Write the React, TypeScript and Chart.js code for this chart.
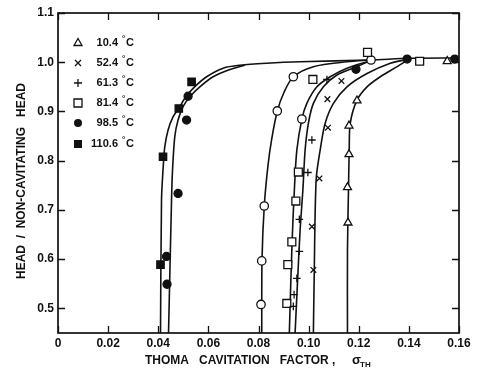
import React, { useEffect, useRef } from 'react';
import { Chart, registerables } from 'chart.js';

Chart.register(...registerables);

// ---------- axis ticks ----------
const X_TICKS = [0, 0.02, 0.04, 0.06, 0.08, 0.1, 0.12, 0.14, 0.16];
const X_TICK_LABELS = ['0', '0.02', '0.04', '0.06', '0.08', '0.10', '0.12', '0.14', '0.16'];
const Y_TICKS = [0.5, 0.6, 0.7, 0.8, 0.9, 1.0, 1.1];
const Y_TICK_LABELS = ['0.5', '0.6', '0.7', '0.8', '0.9', '1.0', '1.1'];

// ---------- legend ----------
const LEGEND_TEMPS = ['10.4', '52.4', '61.3', '81.4', '98.5', '110.6'];

// ---------- measured points ----------
const tri104Sigma = [0.1157, 0.1155, 0.1161, 0.1161, 0.1193, 0.1553];
const tri104Head = [0.674, 0.746, 0.813, 0.871, 0.922, 1.002];

const x524Sigma = [0.1019, 0.1013, 0.1043, 0.1077, 0.1075, 0.1131];
const x524Head = [0.578, 0.666, 0.764, 0.867, 0.925, 0.962];

const plus613Sigma = [0.0939, 0.0942, 0.0953, 0.0963, 0.0963, 0.0997, 0.1013, 0.1073];
const plus613Head = [0.504, 0.528, 0.561, 0.616, 0.681, 0.776, 0.842, 0.965];

const sq814Sigma = [0.0913, 0.0917, 0.0933, 0.0949, 0.0959, 0.1017, 0.1235, 0.1443];
const sq814Head = [0.51, 0.589, 0.635, 0.718, 0.777, 0.965, 1.02, 1.002];

const dot985Sigma = [0.0435, 0.0433, 0.0479, 0.0513, 0.0519, 0.1189, 0.1393, 0.1583];
const dot985Head = [0.549, 0.6055, 0.7335, 0.8825, 0.931, 0.9856, 1.0065, 1.0065];

const fsq1106Sigma = [0.0409, 0.0419, 0.0482, 0.0533];
const fsq1106Head = [0.589, 0.808, 0.906, 0.96];

const openCircSigma = [0.081, 0.0813, 0.0823, 0.0875, 0.0939, 0.0973, 0.1249];
const openCircHead = [0.508, 0.5965, 0.708, 0.901, 0.9705, 0.8846, 1.0045];

// ---------- faired curves ----------
const curve1106Sigma = [0.0409, 0.0413, 0.0419, 0.0426, 0.0439, 0.0459, 0.0482, 0.0506, 0.0539, 0.0593, 0.0659, 0.0726, 0.0833, 0.0966, 0.1246, 0.1406, 0.16];
const curve1106Head = [0.45, 0.72, 0.781, 0.828, 0.862, 0.889, 0.906, 0.927, 0.947, 0.9705, 0.988, 0.994, 0.998, 1.001, 1.0045, 1.008, 1.0085];

const curve985Sigma = [0.0441, 0.0453, 0.0457, 0.0466, 0.0479, 0.0499, 0.0526, 0.0566, 0.0619, 0.0686, 0.0745];
const curve985Head = [0.45, 0.72, 0.781, 0.849, 0.8825, 0.91, 0.93, 0.95, 0.9705, 0.985, 0.994];

const curveCircSigma = [0.0813, 0.0814, 0.0823, 0.0838, 0.0852, 0.0875, 0.0902, 0.0939, 0.1019, 0.1153, 0.1246];
const curveCircHead = [0.45, 0.598, 0.708, 0.791, 0.842, 0.901, 0.939, 0.9705, 0.991, 1.001, 1.0045];

const curve814Sigma = [0.0923, 0.0934, 0.0944, 0.0953, 0.0973, 0.0993, 0.1033, 0.1086, 0.1153, 0.1246];
const curve814Head = [0.45, 0.635, 0.75, 0.8215, 0.8846, 0.9165, 0.95, 0.9705, 0.988, 1.003];

const curve613Sigma = [0.0946, 0.0956, 0.0966, 0.0977, 0.0986, 0.0999, 0.1019, 0.1059, 0.1113, 0.1193, 0.1246];
const curve613Head = [0.45, 0.557, 0.659, 0.74, 0.8215, 0.876, 0.9165, 0.95, 0.974, 0.991, 1.003];

const curve524Sigma = [0.1019, 0.1022, 0.103, 0.1046, 0.1066, 0.1099, 0.1153, 0.1233, 0.1326, 0.1399];
const curve524Head = [0.45, 0.557, 0.761, 0.8215, 0.876, 0.9165, 0.95, 0.977, 0.998, 1.006];

const curve104Sigma = [0.1155, 0.1155, 0.1159, 0.1162, 0.1166, 0.1193, 0.1233, 0.1286, 0.1353, 0.1399];
const curve104Head = [0.45, 0.618, 0.74, 0.8215, 0.876, 0.923, 0.95, 0.9705, 0.991, 1.006];

const pts = (xs: number[], ys: number[]) => xs.map((v, i) => ({ x: v, y: ys[i] }));

const FONT = '"Liberation Sans", Arial, sans-serif';
const INK = '#111';

function drawMarker(ctx: CanvasRenderingContext2D, kind: string, x: number, y: number) {
  ctx.save();
  ctx.strokeStyle = INK;
  ctx.fillStyle = INK;
  ctx.lineWidth = 1.3;
  ctx.beginPath();
  if (kind === 'tri') {
    ctx.moveTo(x, y - 4.5);
    ctx.lineTo(x + 4, y + 2.5);
    ctx.lineTo(x - 4, y + 2.5);
    ctx.closePath();
    ctx.stroke();
  } else if (kind === 'x') {
    ctx.moveTo(x - 3, y - 3);
    ctx.lineTo(x + 3, y + 3);
    ctx.moveTo(x + 3, y - 3);
    ctx.lineTo(x - 3, y + 3);
    ctx.stroke();
  } else if (kind === 'plus') {
    ctx.moveTo(x - 4, y);
    ctx.lineTo(x + 4, y);
    ctx.moveTo(x, y - 4);
    ctx.lineTo(x, y + 4);
    ctx.stroke();
  } else if (kind === 'sq') {
    ctx.rect(x - 4, y - 4, 8, 8);
    ctx.stroke();
  } else if (kind === 'dot') {
    ctx.arc(x, y, 4, 0, Math.PI * 2);
    ctx.fill();
  } else if (kind === 'fsq') {
    ctx.rect(x - 4, y - 4, 8, 8);
    ctx.fill();
  }
  ctx.restore();
}

const LEGEND_KINDS = ['tri', 'x', 'plus', 'sq', 'dot', 'fsq'];

const decorPlugin = {
  id: 'decor',
  afterDatasetsDraw(chart: any) {
    const { ctx, chartArea: a, scales } = chart;
    const xs = scales.x;
    const ys = scales.y;
    ctx.save();
    ctx.strokeStyle = INK;
    ctx.lineWidth = 1.7;
    ctx.strokeRect(a.left, a.top, a.right - a.left, a.bottom - a.top);
    ctx.lineWidth = 1.3;
    ctx.beginPath();
    X_TICKS.forEach((v) => {
      const px = Math.round(xs.getPixelForValue(v)) + 0.5;
      ctx.moveTo(px, a.bottom);
      ctx.lineTo(px, a.bottom - 7);
      ctx.moveTo(px, a.top);
      ctx.lineTo(px, a.top + 7);
    });
    Y_TICKS.forEach((v) => {
      const py = Math.round(ys.getPixelForValue(v)) + 0.5;
      ctx.moveTo(a.left, py);
      ctx.lineTo(a.left + 7, py);
      ctx.moveTo(a.right, py);
      ctx.lineTo(a.right - 7, py);
    });
    ctx.stroke();
    ctx.restore();
  },
  afterDraw(chart: any) {
    const { ctx, chartArea: a } = chart;
    ctx.save();
    ctx.fillStyle = INK;
    // legend
    const rows = [43, 63, 83, 103, 123, 144];
    LEGEND_TEMPS.forEach((t, i) => {
      const yy = rows[i];
      drawMarker(ctx, LEGEND_KINDS[i], 78, yy);
      ctx.fillStyle = INK;
      ctx.font = `bold 11px ${FONT}`;
      ctx.textAlign = 'right';
      ctx.textBaseline = 'middle';
      ctx.fillText(t, 118, yy);
      ctx.textAlign = 'left';
      ctx.font = `bold 8px ${FONT}`;
      ctx.fillText('°', 122, yy - 4);
      ctx.font = `bold 11px ${FONT}`;
      ctx.fillText('C', 126, yy);
    });
    // x title
    ctx.textBaseline = 'middle';
    ctx.textAlign = 'left';
    ctx.font = `bold 12px ${FONT}`;
    ctx.fillText('THOMA   CAVITATION   FACTOR ,', 145, 361, 194);
    ctx.font = `bold 13px ${FONT}`;
    ctx.fillText('σ', 352, 360);
    ctx.font = `bold 8px ${FONT}`;
    ctx.fillText('TH', 360, 365);
    // y title
    ctx.translate(22, (a.top + a.bottom) / 2 + 8);
    ctx.rotate(-Math.PI / 2);
    ctx.textAlign = 'center';
    ctx.font = `bold 12px ${FONT}`;
    ctx.fillText('HEAD  /  NON-CAVITATING   HEAD', 0, 0, 232);
    ctx.restore();
  },
};

export default function App() {
  const ref = useRef<HTMLCanvasElement>(null);
  useEffect(() => {
    document.body.style.margin = '0';
    const canvas = ref.current!;
    const line = (xs: number[], ys: number[]) => ({
      data: pts(xs, ys),
      showLine: true,
      borderColor: INK,
      borderWidth: 1.6,
      pointRadius: 0,
      tension: 0.3,
      order: 2,
      fill: false,
    });
    const mk = (xs: number[], ys: number[], style: string, radius: number, bg: string, bw = 1.3) => ({
      data: pts(xs, ys),
      showLine: false,
      pointStyle: style,
      pointRadius: radius,
      pointBackgroundColor: bg,
      pointBorderColor: INK,
      pointBorderWidth: bw,
      order: 1,
    });
    const chart = new Chart(canvas, {
      type: 'scatter',
      data: {
        datasets: [
          line(curve1106Sigma, curve1106Head),
          line(curve985Sigma, curve985Head),
          line(curveCircSigma, curveCircHead),
          line(curve814Sigma, curve814Head),
          line(curve613Sigma, curve613Head),
          line(curve524Sigma, curve524Head),
          line(curve104Sigma, curve104Head),
          mk(tri104Sigma, tri104Head, 'triangle', 4.6, '#fff'),
          mk(x524Sigma, x524Head, 'crossRot', 4, 'rgba(0,0,0,0)'),
          mk(plus613Sigma, plus613Head, 'cross', 3.8, 'rgba(0,0,0,0)'),
          mk(sq814Sigma, sq814Head, 'rect', 5.6, '#fff'),
          mk(dot985Sigma, dot985Head, 'circle', 4, INK),
          mk(fsq1106Sigma, fsq1106Head, 'rect', 5.2, INK),
          mk(openCircSigma, openCircHead, 'circle', 4.2, '#fff'),
        ] as any,
      },
      options: {
        animation: false,
        responsive: false,
        devicePixelRatio: 1,
        layout: { padding: { left: 0, top: 13, right: 20, bottom: 0 } },
        plugins: { legend: { display: false }, tooltip: { enabled: false } },
        scales: {
          x: {
            type: 'linear',
            min: 0,
            max: 0.16,
            grid: { display: false, drawTicks: false },
            border: { display: false },
            afterBuildTicks: (s: any) => {
              s.ticks = X_TICKS.map((v) => ({ value: v }));
            },
            afterFit: (s: any) => {
              s.height = 47;
            },
            ticks: {
              padding: 3,
              maxRotation: 0,
              autoSkip: false,
              color: INK,
              font: { family: FONT, size: 12, weight: 'bold' },
              callback: (v: any) => X_TICK_LABELS[X_TICKS.findIndex((t) => Math.abs(t - v) < 1e-9)] ?? '',
            },
          },
          y: {
            type: 'linear',
            min: 0.45,
            max: 1.1,
            grid: { display: false, drawTicks: false },
            border: { display: false },
            afterBuildTicks: (s: any) => {
              s.ticks = Y_TICKS.map((v) => ({ value: v }));
            },
            afterFit: (s: any) => {
              s.width = 58;
            },
            ticks: {
              padding: 4,
              autoSkip: false,
              color: INK,
              font: { family: FONT, size: 12, weight: 'bold' },
              callback: (v: any) => Y_TICK_LABELS[Y_TICKS.findIndex((t) => Math.abs(t - v) < 1e-9)] ?? '',
            },
          },
        },
      } as any,
      plugins: [decorPlugin],
    });
    return () => chart.destroy();
  }, []);
  return (
    <div style={{ position: 'fixed', left: 0, top: 0, width: 479, height: 380, background: '#fff' }}>
      <canvas ref={ref} width={479} height={380} />
    </div>
  );
}
